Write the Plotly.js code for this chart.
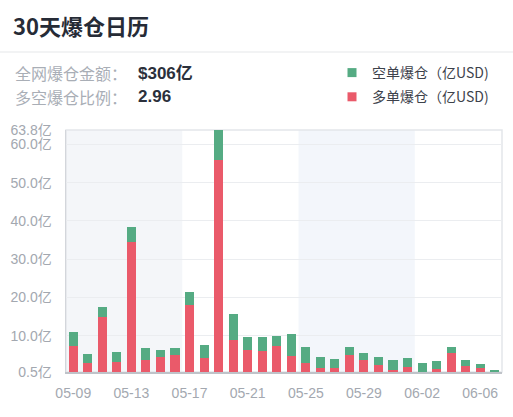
<!DOCTYPE html>
<html>
<head>
<meta charset="utf-8">
<script src="https://cdn.plot.ly/plotly-3.0.1.min.js"></script>
<style>
  html, body { margin: 0; padding: 0; background: #ffffff; }
  #chart { width: 513px; height: 417px; }
</style>
</head>
<body>
<div id="chart"></div>
<script>
// ---- data ----
const dates = ['05-09','05-10','05-11','05-12','05-13','05-14','05-15','05-16','05-17','05-18',
               '05-19','05-20','05-21','05-22','05-23','05-24','05-25','05-26','05-27','05-28',
               '05-29','05-30','05-31','06-01','06-02','06-03','06-04','06-05','06-06','06-07'];
// 多单爆仓 (long liquidations, 亿USD)
const longLiq = [7.4, 2.8, 14.8, 3.2, 34.5, 3.7, 4.3, 4.9, 18.1, 4.2,
                 56.0, 8.9, 6.3, 5.9, 7.3, 4.7, 2.9, 1.5, 1.6, 5.0,
                 3.6, 2.3, 1.0, 1.8, 0.5, 1.2, 5.5, 2.1, 1.5, 0.6];
// 空单爆仓 (short liquidations, 亿USD)
const shortLiq = [3.5, 2.3, 2.6, 2.6, 4.0, 3.1, 2.0, 2.0, 3.4, 3.3,
                  7.8, 6.8, 3.4, 3.7, 2.7, 5.7, 4.1, 2.9, 2.4, 2.1,
                  2.0, 2.0, 2.6, 2.4, 2.4, 2.1, 1.5, 1.5, 1.1, 0.5];
const xTickVals = ['05-09','05-13','05-17','05-21','05-25','05-29','06-02','06-06'];
const yTickVals = [0.5, 10, 20, 30, 40, 50, 60, 63.8];
const yTickText = ['0.5亿','10.0亿','20.0亿','30.0亿','40.0亿','50.0亿','60.0亿','63.8亿'];
const chartTitle = '30天爆仓日历';
const totalLabel = '全网爆仓金额：';
const totalValue = '$306亿';
const ratioLabel = '多空爆仓比例：';
const ratioValue = '2.96';
const shortName = '空单爆仓（亿USD)';
const longName = '多单爆仓（亿USD)';

// ---- style ----
const RED = '#ea5a6a';
const GREEN = '#55ab83';
const FONT = 'Liberation Sans, Noto Sans CJK SC, sans-serif';
const CJK = 'Noto Sans CJK SC, sans-serif';

const traces = [
  { type: 'bar', x: dates, y: longLiq, name: longName, marker: { color: RED }, showlegend: false, hoverinfo: 'skip' },
  { type: 'bar', x: dates, y: shortLiq, name: shortName, marker: { color: GREEN }, showlegend: false, hoverinfo: 'skip' },
  // legend entries
  { type: 'scatter', mode: 'markers', x: [null], y: [null], name: shortName, legendgroup: 'a',
    marker: { symbol: 'square', size: 9, color: GREEN } },
  { type: 'scatter', mode: 'markers', x: [null], y: [null], name: longName, legendgroup: 'b',
    marker: { symbol: 'square', size: 9, color: RED } }
];

const L = 66, R = 502, T = 130, B = 372;
const px = v => (v - L) / (R - L);
const py = v => (B - v) / (B - T);

const layout = {
  width: 513, height: 417,
  margin: { l: L, r: 513 - R, t: T, b: 417 - B, pad: 0 },
  paper_bgcolor: '#ffffff', plot_bgcolor: '#ffffff',
  barmode: 'stack', bargap: 0.38,
  font: { family: FONT, size: 14, color: '#a3a8b0' },
  xaxis: {
    type: 'category', tickvals: xTickVals, ticktext: xTickVals,
    showgrid: false, zeroline: false, showline: true, linecolor: '#bfc3c9', linewidth: 2,
    ticks: '', ticklabelstandoff: 7, tickfont: { family: FONT, size: 14, color: '#a3a8b0' },
    range: [-0.5, 29.5], fixedrange: true
  },
  yaxis: {
    range: [0.5, 63.8], tickvals: yTickVals, ticktext: yTickText,
    showgrid: true, gridcolor: '#ebedf0', gridwidth: 1, zeroline: false,
    showline: true, linecolor: '#d3d6db', linewidth: 1.5,
    ticks: '', ticklabelstandoff: 10, tickfont: { family: FONT, size: 14, color: '#a3a8b0' },
    fixedrange: true
  },
  showlegend: true,
  legend: {
    x: px(332), xanchor: 'left', y: py(57), yanchor: 'top',
    bgcolor: 'rgba(0,0,0,0)', tracegroupgap: 3, traceorder: 'grouped',
    font: { family: CJK, size: 14, color: '#3d424b' }
  },
  shapes: [
    { type: 'rect', xref: 'x', yref: 'paper', x0: -0.5, x1: 7.5, y0: 0, y1: 1, fillcolor: '#f4f6f9', line: { width: 0 }, layer: 'below' },
    { type: 'rect', xref: 'x', yref: 'paper', x0: 15.5, x1: 23.5, y0: 0, y1: 1, fillcolor: '#f3f6fb', line: { width: 0 }, layer: 'below' },
    { type: 'rect', xref: 'paper', yref: 'paper', x0: 0, x1: 1, y0: 0, y1: 1, fillcolor: 'rgba(0,0,0,0)', line: { color: '#e3e6ea', width: 1.5 }, layer: 'below' },
    { type: 'line', xref: 'paper', yref: 'paper', x0: px(0), x1: px(513), y0: py(52), y1: py(52), line: { color: '#eeeff1', width: 1.5 } }
  ],
  annotations: [
    { text: chartTitle, xref: 'paper', yref: 'paper', x: px(11), y: py(25), xanchor: 'left', yanchor: 'middle', showarrow: false,
      font: { family: CJK, size: 22, color: '#262b36', weight: 600 } },
    { text: totalLabel, xref: 'paper', yref: 'paper', x: px(13), y: py(73), xanchor: 'left', yanchor: 'middle', showarrow: false,
      font: { family: CJK, size: 16, color: '#a9aeb6' } },
    { text: totalValue, xref: 'paper', yref: 'paper', x: px(136), y: py(73), xanchor: 'left', yanchor: 'middle', showarrow: false,
      font: { family: FONT, size: 17, color: '#2b303b', weight: 'bold' } },
    { text: ratioLabel, xref: 'paper', yref: 'paper', x: px(13), y: py(97), xanchor: 'left', yanchor: 'middle', showarrow: false,
      font: { family: CJK, size: 16, color: '#a9aeb6' } },
    { text: ratioValue, xref: 'paper', yref: 'paper', x: px(136), y: py(97), xanchor: 'left', yanchor: 'middle', showarrow: false,
      font: { family: FONT, size: 17, color: '#2b303b', weight: 'bold' } }
  ]
};

Plotly.newPlot('chart', traces, layout, { staticPlot: true, displayModeBar: false });
</script>
</body>
</html>
